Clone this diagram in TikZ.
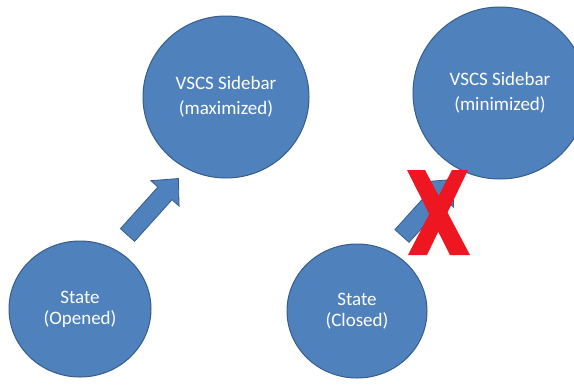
\documentclass[tikz,border=0pt]{standalone}
\usepackage{fontspec}
\setmainfont{Carlito}
\usetikzlibrary{shapes.geometric}
\definecolor{nodeblue}{RGB}{79,129,189}
\definecolor{nodeedge}{RGB}{56,93,138}
\definecolor{crossred}{RGB}{238,22,32}
\tikzset{
  statenode/.style={ellipse, fill=nodeblue, draw=nodeedge, line width=1pt,
    inner sep=0pt, text=white, align=center},
  toptext/.style={font=\fontsize{19}{25}\selectfont},
  bottomtext/.style={font=\fontsize{19}{21}\selectfont},
  blockarrow/.style={fill=nodeblue, draw=nodeedge, line width=0.8pt, line join=miter},
  crossmark/.style={fill=crossred}
}
\begin{document}
\begin{tikzpicture}[x=1pt, y=-1pt]
  \fill[white] (0,0) rectangle (574,384);
  \clip (0,0) rectangle (574,384);
  % states
  \node[statenode, toptext, minimum width=166pt, minimum height=162pt] (maxi) at (226,97) {VSCS Sidebar\\(maximized)};
  \node[statenode, toptext, minimum width=174pt, minimum height=172pt] (mini) at (500,93) {VSCS Sidebar\\(minimized)};
  \node[statenode, bottomtext, minimum width=142pt, minimum height=136pt] (opened) at (80,309) {State\\(Opened)};
  \node[statenode, bottomtext, minimum width=140pt, minimum height=134pt] (closed) at (357,311) {State\\(Closed)};
  % block arrows
  \coordinate (tailA) at (127.5,235);
  \coordinate (tailB) at (402,236);
  \begin{scope}[shift={(tailA)}, rotate=48]
    \draw[blockarrow] (0,-9.5) -- (56,-9.5) -- (56,-19) -- (76,0) -- (56,19) -- (56,9.5) -- (0,9.5) -- cycle;
  \end{scope}
  \begin{scope}[shift={(tailB)}, rotate=48]
    \draw[blockarrow] (0,-9.5) -- (56,-9.5) -- (56,-19) -- (76,0) -- (56,19) -- (56,9.5) -- (0,9.5) -- cycle;
  \end{scope}
  % red cross
  \fill[crossmark] (407,170) -- (425,170) -- (470,255) -- (450,255) -- cycle;
  \fill[crossmark] (452,170) -- (468,170) -- (427,255) -- (408,255) -- cycle;
\end{tikzpicture}
\end{document}
